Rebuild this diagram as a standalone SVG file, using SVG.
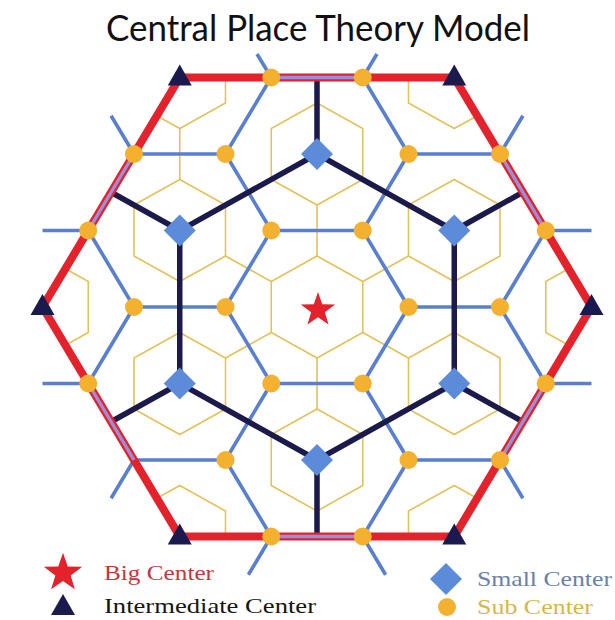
<svg xmlns="http://www.w3.org/2000/svg" xmlns:xlink="http://www.w3.org/1999/xlink" width="615" height="620" viewBox="0 0 615 620">
<style>
.yel{fill:none;stroke:#e3c15b;stroke-width:1.6}
.blu{fill:none;stroke:#5a7fcf;stroke-width:3.6;stroke-linecap:butt}
.blk{fill:none;stroke:#1b1a4a;stroke-width:5.5;stroke-linecap:butt;stroke-linejoin:miter}
.red{fill:none;stroke:#e3222b;stroke-width:8;stroke-linejoin:miter}
.pur{fill:none;stroke:#9a8fd8;stroke-width:3.4}
.sub{fill:#f4b12f}
.dia{fill:#5b8bd9}
.tri{fill:#1b1a4e}
.star{fill:#e3222b}
.ttl{font-family:Lato,"Open Sans",sans-serif;font-size:36px;fill:#111}
.lg{font-family:"Liberation Serif","Times New Roman",serif;font-size:21px}
</style>
<defs>
<path id="cell" d="M0,-51 L45.75,-25.5 L45.75,25.5 L0,51 L-45.75,25.5 L-45.75,-25.5 Z"/>
<path id="starS" d="M0,-18 L4.23,-5.82 L17.12,-5.56 L6.85,2.22 L10.58,14.56 L0,7.2 L-10.58,14.56 L-6.85,2.22 L-17.12,-5.56 L-4.23,-5.82 Z"/>
<path id="triS" d="M0,-13 L12,8 L-12,8 Z"/>
<path id="diaS" d="M0,-16 L16,0 L0,16 L-16,0 Z"/>
<clipPath id="hexClip"><polygon points="179.75,77.5 454.25,77.5 591.5,307 454.25,536.5 179.75,536.5 42.5,307"/></clipPath>
</defs>
<rect x="0" y="0" width="615" height="620" fill="#ffffff"/>
<text class="ttl" x="106" y="41" textLength="424" lengthAdjust="spacingAndGlyphs">Central Place Theory Model</text>

<g id="connectors">
<g id="market-areas" class="yel" clip-path="url(#hexClip)">
<use xlink:href="#cell" href="#cell" x="317" y="307"/>
<use xlink:href="#cell" href="#cell" x="317" y="154"/>
<use xlink:href="#cell" href="#cell" x="454.25" y="230.5"/>
<use xlink:href="#cell" href="#cell" x="454.25" y="383.5"/>
<use xlink:href="#cell" href="#cell" x="317" y="460"/>
<use xlink:href="#cell" href="#cell" x="179.75" y="383.5"/>
<use xlink:href="#cell" href="#cell" x="179.75" y="230.5"/>
<use xlink:href="#cell" href="#cell" x="179.75" y="77.5"/>
<use xlink:href="#cell" href="#cell" x="454.25" y="77.5"/>
<use xlink:href="#cell" href="#cell" x="591.5" y="307"/>
<use xlink:href="#cell" href="#cell" x="454.25" y="536.5"/>
<use xlink:href="#cell" href="#cell" x="179.75" y="536.5"/>
<use xlink:href="#cell" href="#cell" x="42.5" y="307"/>
<path d="M317,256 V205 M362.75,281.5 L408.5,256 M362.75,332.5 L408.5,358 M317,358 V409 M271.25,332.5 L225.5,358 M271.25,281.5 L225.5,256 M179.75,179.5 V128.5"/>
</g>
<g id="sub-network" class="blu">
<path d="M271.25,77.5 L225.5,154 M362.75,77.5 L408.5,154 M134,154 H225.5 M225.5,154 L271.25,230.5 M408.5,154 H500 M408.5,154 L362.75,230.5 M88.25,230.5 L134,307 M271.25,230.5 H362.75 M271.25,230.5 L225.5,307 M362.75,230.5 L408.5,307 M545.75,230.5 L500,307 M134,307 H225.5 M134,307 L88.25,383.5 M225.5,307 L271.25,383.5 M408.5,307 H500 M408.5,307 L362.75,383.5 M500,307 L545.75,383.5 M271.25,383.5 H362.75 M271.25,383.5 L225.5,460 M362.75,383.5 L408.5,460 M134,460 H225.5 M225.5,460 L271.25,536.5 M408.5,460 H500 M408.5,460 L362.75,536.5"/>
<path d="M271.25,77.5 L257,54 M362.75,77.5 L377,54 M134,154 L111.1,115.75 M500,154 L522.9,115.75 M88.25,230.5 H42.5 M545.75,230.5 H591.5 M88.25,383.5 H42.5 M545.75,383.5 H591.5 M134,460 L111.1,498.25 M500,460 L522.9,498.25 M271.25,536.5 L248.4,574.75 M362.75,536.5 L385.6,574.75"/>
</g>
<g id="small-network" class="blk">
<polygon points="317,154 454.25,230.5 454.25,383.5 317,460 179.75,383.5 179.75,230.5"/>
<path d="M317,154 V77.5 M454.25,230.5 L522.9,192.25 M454.25,383.5 L522.9,421.75 M317,460 V536.5 M179.75,383.5 L111.1,421.75 M179.75,230.5 L111.1,192.25"/>
</g>
<g id="intermediate-boundary">
<polygon class="red" points="179.75,77.5 454.25,77.5 591.5,307 454.25,536.5 179.75,536.5 42.5,307"/>
<path class="pur" d="M271.25,77.5 H362.75 M134,154 L88.25,230.5 M500,154 L545.75,230.5 M88.25,383.5 L134,460 M545.75,383.5 L500,460 M271.25,536.5 H362.75"/>
</g>
</g>

<g id="sub-centers" class="sub">
<circle cx="271.25" cy="77.5" r="9"/><circle cx="362.75" cy="77.5" r="9"/>
<circle cx="134" cy="154" r="9"/><circle cx="225.5" cy="154" r="9"/><circle cx="408.5" cy="154" r="9"/><circle cx="500" cy="154" r="9"/>
<circle cx="88.25" cy="230.5" r="9"/><circle cx="271.25" cy="230.5" r="9"/><circle cx="362.75" cy="230.5" r="9"/><circle cx="545.75" cy="230.5" r="9"/>
<circle cx="134" cy="307" r="9"/><circle cx="225.5" cy="307" r="9"/><circle cx="408.5" cy="307" r="9"/><circle cx="500" cy="307" r="9"/>
<circle cx="88.25" cy="383.5" r="9"/><circle cx="271.25" cy="383.5" r="9"/><circle cx="362.75" cy="383.5" r="9"/><circle cx="545.75" cy="383.5" r="9"/>
<circle cx="225.5" cy="460" r="9"/><circle cx="408.5" cy="460" r="9"/><circle cx="500" cy="460" r="9"/>
<circle cx="271.25" cy="536.5" r="9"/><circle cx="362.75" cy="536.5" r="9"/>
</g>
<g id="small-centers" class="dia">
<use xlink:href="#diaS" href="#diaS" x="317" y="154"/>
<use xlink:href="#diaS" href="#diaS" x="454.25" y="230.5"/>
<use xlink:href="#diaS" href="#diaS" x="454.25" y="383.5"/>
<use xlink:href="#diaS" href="#diaS" x="317" y="460"/>
<use xlink:href="#diaS" href="#diaS" x="179.75" y="383.5"/>
<use xlink:href="#diaS" href="#diaS" x="179.75" y="230.5"/>
</g>
<g id="intermediate-centers" class="tri">
<use xlink:href="#triS" href="#triS" x="179.75" y="77.5"/>
<use xlink:href="#triS" href="#triS" x="454.25" y="77.5"/>
<use xlink:href="#triS" href="#triS" x="591.5" y="307"/>
<use xlink:href="#triS" href="#triS" x="454.25" y="536.5"/>
<use xlink:href="#triS" href="#triS" x="179.75" y="536.5"/>
<use xlink:href="#triS" href="#triS" x="42.5" y="307"/>
</g>
<g id="big-center" class="star">
<use xlink:href="#starS" href="#starS" x="318" y="310"/>
</g>

<g id="legend">
<g id="legend-big"><use xlink:href="#starS" href="#starS" class="star" transform="translate(63,573) scale(1.12)"/><text class="lg" x="104" y="580" fill="#c4383c" textLength="110" lengthAdjust="spacingAndGlyphs">Big Center</text></g>
<g id="legend-intermediate"><use xlink:href="#triS" href="#triS" class="tri" x="63" y="607"/><text class="lg" x="104" y="613" fill="#151515" textLength="212" lengthAdjust="spacingAndGlyphs">Intermediate Center</text></g>
<g id="legend-small"><use xlink:href="#diaS" href="#diaS" class="dia" x="446" y="579"/><text class="lg" x="477" y="586" fill="#6c7fa9" textLength="135" lengthAdjust="spacingAndGlyphs">Small Center</text></g>
<g id="legend-sub"><circle class="sub" cx="447" cy="607" r="9"/><text class="lg" x="477" y="614" fill="#d8b64b" textLength="116" lengthAdjust="spacingAndGlyphs">Sub Center</text></g>
</g>
</svg>
